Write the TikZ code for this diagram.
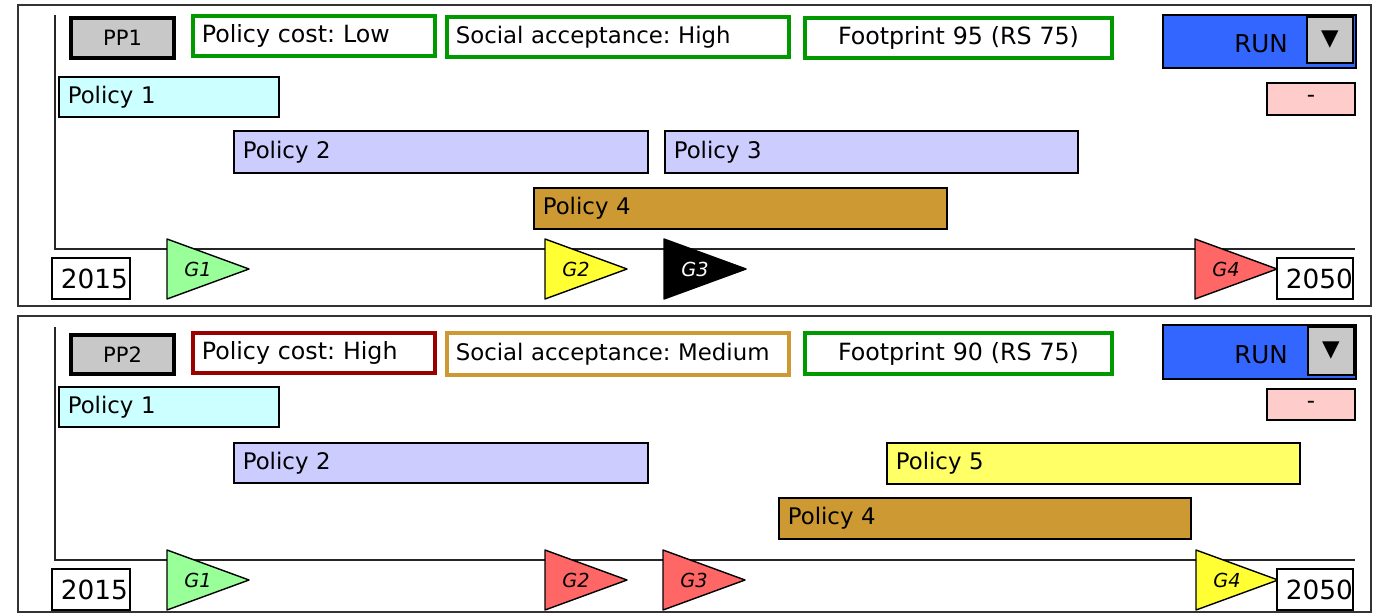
\documentclass[tikz,border=0pt]{standalone}
\usepackage{fontspec}
\setmainfont{DejaVu Sans}
\usepackage{tikz}
\frenchspacing
\definecolor{ppGray}{HTML}{C8C8C8}
\definecolor{critGreen}{HTML}{009900}
\definecolor{critRed}{HTML}{990000}
\definecolor{critGold}{HTML}{CC9933}
\definecolor{runBlue}{HTML}{3366FF}
\definecolor{minusPink}{HTML}{FFCCCC}
\definecolor{polCyan}{HTML}{CCFFFF}
\definecolor{polLav}{HTML}{CCCCFF}
\definecolor{polGold}{HTML}{CC9933}
\definecolor{polYellow}{HTML}{FFFF66}
\definecolor{goalGreen}{HTML}{99FF99}
\definecolor{goalYellow}{HTML}{FFFF33}
\definecolor{goalRed}{HTML}{FF6666}
\tikzset{
  frame/.style={draw=black!80, line width=1.2pt},
  axisline/.style={draw=black!85, line width=1pt},
  ppbox/.style={draw, fill=ppGray, line width=1.8pt, align=center, font=\fontsize{12}{14}\selectfont},
  crit/.style={draw, fill=white, line width=2pt, align=left, font=\fontsize{13.5}{16}\selectfont},
  soc/.style={crit, font=\fontsize{13}{15}\selectfont},
  pol/.style={draw, line width=0.9pt, align=left, font=\fontsize{13}{15}\selectfont},
  yearbox/.style={draw, fill=white, line width=0.9pt, align=center, font=\fontsize{15}{17}\selectfont},
  runbox/.style={draw, fill=runBlue, line width=1pt},
  runlbl/.style={font=\fontsize{14}{16}\selectfont},
  ddbox/.style={draw, fill=ppGray, line width=1pt, align=center, font=\fontsize{13}{15}\selectfont},
  minus/.style={draw, fill=minusPink, line width=0.9pt, align=center, font=\fontsize{13}{15}\selectfont},
  goal/.style={draw, line width=0.8pt, line join=round},
  glab/.style={font=\fontsize{11}{13}\selectfont\itshape}
}
% box from (x1,y1) to (x2,y2) in pixels: style, name, x1, y1, x2, y2, text
\newcommand{\bx}[7]{\node[#1, inner xsep=5pt, inner ysep=2pt, text width={(#5-#3)*0.02cm-10pt}, minimum height={(#6-#4)*0.02cm}] (#2) at ({(#3+#5)/2},{(#4+#6)/2}) {#7};}
% goal flag: name, left x, top y, fill, label
\newcommand{\goal}[5]{\draw[goal, fill=#4] (#2,#3) -- ++(82,30) -- ++(-82,30) -- cycle;
  \node[glab] (#1) at ({#2+31},{#3+30}) {#5};}

\begin{document}
\begin{tikzpicture}[x=0.02cm, y=-0.02cm]
			\useasboundingbox (0,0) rectangle (1381,615);
			
			%%%%% PP1 %%%%%
			\draw[frame] (18,5) rectangle (1371,306);
			\draw[axisline] (55,15) -- (55,249) -- (1355,249);
			
			\bx{ppbox}{pp1}{71}{18}{174}{58}{PP1}
			\bx{crit, draw=critGreen}{cost1}{193}{16}{435}{56}{Policy cost: Low}
			\bx{soc, draw=critGreen}{soc1}{447}{17}{789}{57}{Social acceptance: High}
			\bx{crit, draw=critGreen, align=center}{foot1}{805}{18}{1112}{58}{Footprint 95 (RS 75)}
			\bx{runbox}{run1}{1163}{15}{1356}{68}{}
			\node[runlbl] (runlbl1) at (1261,44) {RUN};
			\bx{ddbox}{dd1}{1307}{17}{1353}{63}{▼}
			\bx{minus}{res1}{1267}{83}{1355}{115}{-}
			
			\bx{pol, fill=polCyan}{p1a}{59}{77}{279}{117}{Policy 1}
			\bx{pol, fill=polLav}{p1b}{234}{131}{648}{173}{Policy 2}
			\bx{pol, fill=polLav}{p1c}{665}{131}{1078}{173}{Policy 3}
			\bx{pol, fill=polGold}{p1d}{534}{188}{947}{229}{Policy 4}
			
			\goal{g1a}{167}{239}{goalGreen}{G1}
			\goal{g1b}{545}{239}{goalYellow}{G2}
			\goal{g1c}{664}{239}{black}{\color{white}G3}
			\goal{g1d}{1195}{239}{goalRed}{G4}
			
			\bx{yearbox}{y1a}{52}{258}{130}{299}{2015}
			\bx{yearbox}{y1b}{1277}{258}{1353}{299}{2050}
			
			%%%%% PP2 %%%%%
			\draw[frame] (18,316) rectangle (1371,612);
			\draw[axisline] (55,327) -- (55,560) -- (1355,560);
			
			\bx{ppbox}{pp2}{71}{335}{174}{374}{PP2}
			\bx{crit, draw=critRed}{cost2}{193}{333}{435}{373}{Policy cost: High}
			\bx{soc, draw=critGold}{soc2}{447}{333}{789}{375}{Social acceptance: Medium}
			\bx{crit, draw=critGreen, align=center}{foot2}{805}{333}{1112}{374}{Footprint 90 (RS 75)}
			\bx{runbox}{run2}{1163}{325}{1356}{379}{}
			\node[runlbl] (runlbl2) at (1261,355) {RUN};
			\bx{ddbox}{dd2}{1308}{327}{1354}{375}{▼}
			\bx{minus}{res2}{1267}{389}{1355}{420}{-}
			
			\bx{pol, fill=polCyan}{p2a}{59}{387}{279}{427}{Policy 1}
			\bx{pol, fill=polLav}{p2b}{234}{443}{648}{483}{Policy 2}
			\bx{pol, fill=polYellow}{p2e}{887}{443}{1300}{484}{Policy 5}
			\bx{pol, fill=polGold}{p2d}{779}{498}{1191}{539}{Policy 4}
			
			\goal{g2a}{167}{550}{goalGreen}{G1}
			\goal{g2b}{545}{550}{goalRed}{G2}
			\goal{g2c}{663}{550}{goalRed}{G3}
			\goal{g2d}{1196}{550}{goalYellow}{G4}
			
			\bx{yearbox}{y2a}{52}{569}{130}{610}{2015}
			\bx{yearbox}{y2b}{1277}{569}{1353}{610}{2050}
			
\end{tikzpicture}
\end{document}
